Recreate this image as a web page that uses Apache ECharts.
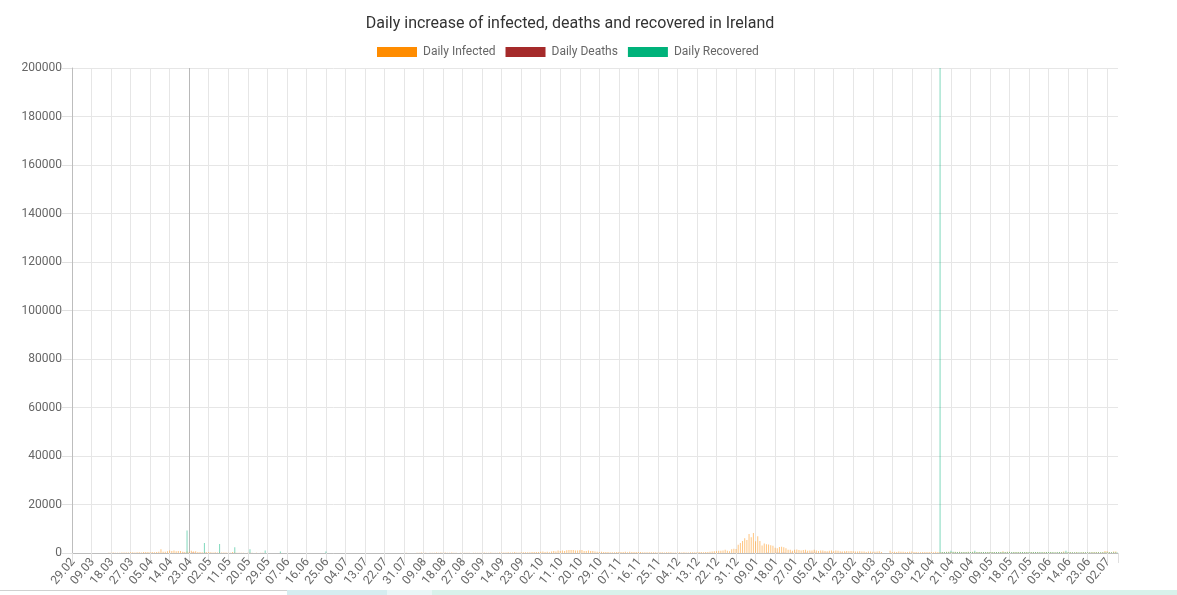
<!DOCTYPE html>
<html>
<head>
<meta charset="utf-8">
<script src="https://cdn.jsdelivr.net/npm/echarts@6/dist/echarts.min.js"></script>
<style>
html,body{margin:0;padding:0;background:#fff;overflow:hidden;}
#chart{position:absolute;left:0;top:0;width:1177px;height:595px;}
.band{position:absolute;top:590px;height:5px;}
</style>
</head>
<body>
<div id="chart"></div>
<div class="band" style="left:0;width:287px;border-top:1px solid #d0d0d0;height:4px;background:#fff;"></div>
<div class="band" style="left:287px;width:100px;background:#d5edf0;"></div>
<div class="band" style="left:387px;width:45px;background:#e9f6f7;"></div>
<div class="band" style="left:432px;width:745px;background:#d8f2eb;"></div>
<script>
// ---- Dates covered by the data (the source skips 09.03.2021–20.03.2021) ----
const dateRanges = [['2020-02-29', '2021-03-08'], ['2021-03-21', '2021-07-06']];

// ---- Daily infected: 29.02.2020 – 31.12.2020 ----
const infected2020 = [
  1,
  // March
  0,0,1,4,7,5,4,2,2,10,9,27,20,39,40,40,74,74,191,126,102,121,219,204,235,255,302,294,200,295,325,
  // April
  212,402,424,390,331,370,345,365,500,1515,480,553,727,992,832,1068,724,777,778,493,401,631,388,936,577,701,386,376,264,221,
  // May
  343,376,330,211,265,156,228,236,222,159,134,107,426,233,139,69,61,88,51,64,65,57,35,64,47,59,73,38,42,12,28,
  // June
  23,24,37,28,12,14,12,6,24,18,9,15,21,8,10,19,8,14,3,10,24,10,8,13,7,16,23,12,12,13,
  // July
  8,7,10,9,17,9,13,21,23,17,11,17,12,17,20,21,25,28,7,19,11,12,5,31,42,26,12,16,38,30,37,
  // August
  85,41,26,42,45,68,98,174,100,53,35,57,56,67,200,66,190,64,156,121,84,156,61,52,46,114,109,101,61,107,47,
  // September
  53,89,123,102,139,217,120,148,211,99,130,132,191,255,240,253,357,197,223,396,234,253,321,324,265,359,266,364,429,442,
  // October
  432,506,613,364,518,300,611,815,594,1012,814,1000,811,1095,1205,1276,1283,1031,1066,1167,1269,777,866,1025,859,820,638,465,416,540,416,
  // November
  399,384,322,267,345,365,455,395,391,538,291,484,403,456,378,456,448,317,270,271,266,272,303,326,231,270,263,245,318,347,
  // December
  269,225,231,251,269,240,332,242,217,300,264,266,261,429,384,264,427,433,484,582,764,727,970,938,1025,1296,922,744,1546,1718,1620
];

// ---- Daily infected: 01.01.2021 – 06.07.2021 ----
const infected2021 = [
  // January
  3394,4100,4962,6110,5325,7836,6521,8248,4842,6888,4929,3086,3955,3569,3498,3231,2944,2121,2001,2488,2608,2371,1910,1378,1372,928,1335,1466,1254,1035,1247,
  // February
  1318,879,1013,1006,1319,1078,825,1047,1064,829,678,919,1076,763,1044,878,706,656,745,809,738,810,725,655,614,689,631,575,
  // March 1-8
  411,612,592,522,566,647,683,404,
  // March 21-31
  0,0,0,950,371,557,444,624,466,561,411,
  // April
  439,502,580,381,379,305,333,367,385,426,411,417,322,484,405,429,437,370,485,509,375,419,479,376,469,448,370,371,470,443,
  // May
  545,398,393,427,426,406,450,443,393,426,444,390,411,454,700,436,498,523,357,377,411,425,411,384,392,373,295,439,451,365,385,
  // June
  302,284,376,454,394,375,360,301,265,401,408,650,351,314,412,304,300,424,249,313,386,330,319,339,368,389,431,452,304,403,
  // July 1-6
  800,700,454,340,581,647
];

// ---- Daily deaths ----
const deaths2020 = [
  0,
  0,0,0,0,0,0,0,0,0,1,0,0,1,0,0,0,1,0,1,0,1,1,1,2,2,2,10,14,10,10,25,
  14,13,22,17,21,16,36,25,28,25,25,25,31,41,41,43,33,43,41,77,44,43,49,185,52,30,25,47,31,59,
  33,41,16,19,20,21,19,19,21,18,8,24,16,13,22,7,10,9,8,4,13,10,10,6,1,5,4,4,3,2,4,
  1,5,2,0,5,2,3,5,3,4,1,3,0,3,0,1,3,6,2,1,0,1,1,1,1,3,1,0,1,0,
  1,1,2,0,0,0,0,1,0,1,0,0,0,0,1,0,0,1,0,0,0,1,2,0,1,0,0,0,1,0,0,
  0,0,0,0,1,0,0,0,0,1,0,0,0,0,0,0,1,0,1,0,0,0,0,1,0,0,1,0,0,0,0,
  0,1,1,2,0,0,0,1,0,2,1,1,0,0,1,1,0,2,0,1,0,2,1,3,1,2,0,1,2,3,
  3,6,2,0,3,2,3,5,2,4,2,3,0,8,3,3,5,3,3,7,1,6,4,2,0,1,8,5,7,3,5,
  8,1,5,6,6,7,3,0,4,7,5,4,7,7,2,3,7,10,3,8,7,0,6,10,11,2,5,7,0,5,
  3,3,6,5,4,1,2,1,5,2,3,2,0,2,2,1,2,4,5,3,2,1,4,2,0,0,4,7,6,13,13
];
const deaths2021 = [
  15,8,20,9,17,17,20,20,8,11,9,46,28,63,51,50,8,66,93,51,52,90,18,8,101,47,54,48,50,25,52,
  94,51,75,59,84,39,23,68,56,70,52,35,72,17,36,30,53,35,62,40,13,7,35,45,36,41,35,12,
  6,22,25,24,10,8,6,3,
  0,0,0,17,8,11,6,6,2,10,7,
  6,4,12,4,3,0,8,6,5,3,2,2,1,5,5,2,3,1,5,3,4,5,3,2,3,4,2,1,5,3,
  2,1,3,1,2,4,3,1,0,2,3,2,1,0,2,1,0,3,2,1,0,2,1,3,2,0,1,2,1,0,1,
  1,0,2,1,0,1,3,0,1,2,0,1,0,2,1,0,1,0,2,1,0,1,2,0,1,0,1,2,0,1,
  1,0,2,0,1,0
];

// ---- Daily recovered: 2020 reports were weekly ----
const recovered2020Dates  = ['21.04.2020','29.04.2020','06.05.2020','13.05.2020','20.05.2020','27.05.2020','03.06.2020','24.06.2020'];
const recovered2020Values = [9233, 4153, 3724, 2360, 1590, 1029, 609, 666];
// ---- Daily recovered from 15.04.2021 onwards ----
const recovered2021Start = '15.04.2021';
const recovered2021 = [
  233000,412,388,430,398,955,512,377,410,395,440,380,452,420,398,376,
  905,420,455,398,410,433,402,387,415,440,428,399,410,390,412,445,398,402,380,415,430,420,396,405,388,410,402,385,370,395,380,
  372,360,385,390,378,365,350,362,370,345,358,910,365,340,352,348,335,360,344,330,338,352,340,325,336,345,350,338,330,342,
  330,345,320,338,352,340
];

const yTicks = {min: 0, max: 200000, interval: 20000};

// ---- build categories ----
function pad(n){ return (n < 10 ? '0' : '') + n; }
const categories = [];
dateRanges.forEach(function(r){
  const end = new Date(r[1] + 'T00:00:00Z');
  for (let d = new Date(r[0] + 'T00:00:00Z'); d <= end; d.setUTCDate(d.getUTCDate() + 1)) {
    categories.push(pad(d.getUTCDate()) + '.' + pad(d.getUTCMonth() + 1) + '.' + d.getUTCFullYear());
  }
});
const infected = infected2020.concat(infected2021);
const deaths = deaths2020.concat(deaths2021);
const recovered = categories.map(function(){ return 0; });
recovered2020Dates.forEach(function(d, i){ const k = categories.indexOf(d); if (k >= 0) recovered[k] = recovered2020Values[i]; });
const rStart = categories.indexOf(recovered2021Start);
recovered2021.forEach(function(v, i){ if (rStart + i < recovered.length) recovered[rStart + i] = v; });

// vertical grid colours: one slightly darker line at 23.04.2020
const vLineColors = [];
for (let i = 0; i < 60; i++) vLineColors.push(i === 6 ? '#b8b8b8' : '#e6e6e6');

const FONT = 'Roboto, "Noto Sans", sans-serif';
const chart = echarts.init(document.getElementById('chart'), null, {renderer: 'canvas'});
chart.setOption({
  animation: false,
  backgroundColor: '#ffffff',
  textStyle: {fontFamily: FONT},
  title: {
    text: 'Daily increase of infected, deaths and recovered in Ireland',
    left: 570, top: 16, padding: 0, textAlign: 'center',
    textStyle: {fontSize: 16, fontWeight: 'normal', color: '#333', fontFamily: FONT}
  },
  legend: {
    left: 377, top: 46, padding: 0,
    itemWidth: 40, itemHeight: 10, itemGap: 10,
    icon: 'rect',
    itemStyle: {opacity: 1},
    textStyle: {fontSize: 12, color: '#666', fontFamily: FONT, padding: [0, 0, 0, 1]},
    data: [
      {name: 'Daily Infected', itemStyle: {color: '#ff8c00', opacity: 1}},
      {name: 'Daily Deaths', itemStyle: {color: '#a52a2a', opacity: 1}},
      {name: 'Daily Recovered', itemStyle: {color: '#00b27a', opacity: 1}}
    ]
  },
  grid: {left: 72, right: 59, top: 68, bottom: 42, containLabel: false},
  xAxis: {
    type: 'category',
    data: categories,
    boundaryGap: true,
    axisLine: {show: true, lineStyle: {color: '#bdbdbd', width: 1}},
    axisTick: {show: true, interval: 8, length: 10, lineStyle: {color: '#e0e0e0'}},
    splitLine: {show: true, interval: 8, showMaxLine: false, lineStyle: {color: vLineColors, width: 1}},
    axisLabel: {
      interval: 8, rotate: 50, margin: 7, fontSize: 12, color: '#666', fontFamily: FONT,
      formatter: function(v){ return v.slice(0, 5); }
    }
  },
  yAxis: {
    type: 'value',
    min: yTicks.min, max: yTicks.max, interval: yTicks.interval,
    axisLine: {show: true, lineStyle: {color: '#bdbdbd'}},
    axisTick: {show: true, length: 10, lineStyle: {color: '#e0e0e0'}},
    splitLine: {show: true, lineStyle: {color: '#e6e6e6'}},
    axisLabel: {margin: 10, fontSize: 12, color: '#666', fontFamily: FONT,
      formatter: function(v){ return String(v); }}
  },
  series: [
    {name: 'Daily Infected', type: 'bar', data: infected, itemStyle: {color: '#ff8c00', opacity: 0.5},
     barGap: '11%', barCategoryGap: '20%', clip: true},
    {name: 'Daily Deaths', type: 'bar', data: deaths, itemStyle: {color: '#a52a2a', opacity: 0.5},
     barGap: '11%', barCategoryGap: '20%', clip: true},
    {name: 'Daily Recovered', type: 'bar', data: recovered, itemStyle: {color: '#00b27a', opacity: 0.5},
     barGap: '11%', barCategoryGap: '20%', clip: true}
  ]
});
</script>
</body>
</html>
